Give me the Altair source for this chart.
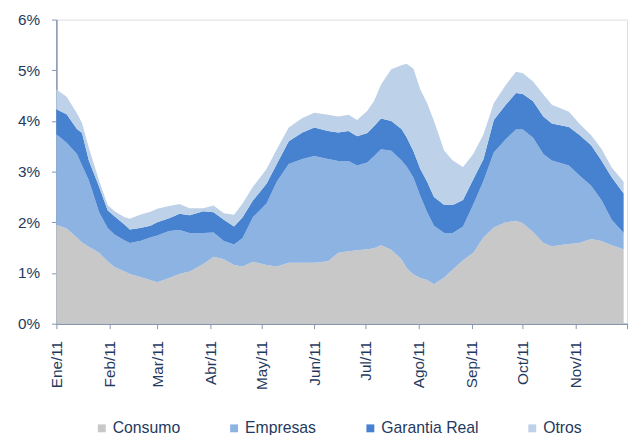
import altair as alt
import pandas as pd

fechas = ["2011-01-01","2011-01-07","2011-01-13","2011-01-16","2011-01-20","2011-01-26","2011-01-31",
          "2011-02-04","2011-02-10","2011-02-13","2011-02-19","2011-02-25","2011-03-01","2011-03-08",
          "2011-03-14","2011-03-20","2011-03-28","2011-04-03","2011-04-09","2011-04-15","2011-04-20",
          "2011-04-26","2011-05-04","2011-05-10","2011-05-17","2011-05-25","2011-06-01","2011-06-09",
          "2011-06-15","2011-06-21","2011-06-26","2011-07-02","2011-07-06","2011-07-10","2011-07-16",
          "2011-07-22","2011-07-25","2011-07-29","2011-08-02","2011-08-06","2011-08-10","2011-08-16",
          "2011-08-21","2011-08-27","2011-09-02","2011-09-08","2011-09-14","2011-09-21","2011-09-27",
          "2011-10-01","2011-10-07","2011-10-13","2011-10-18","2011-10-28","2011-11-03","2011-11-10",
          "2011-11-16","2011-11-22","2011-11-29"]

consumo = [1.95,1.88,1.70,1.60,1.52,1.40,1.23,1.12,1.03,0.98,
           0.92,0.86,0.82,0.90,0.98,1.03,1.18,1.32,1.27,1.16,
           1.13,1.22,1.16,1.13,1.20,1.20,1.20,1.23,1.40,1.43,
           1.45,1.47,1.49,1.55,1.46,1.27,1.10,0.97,0.90,0.86,
           0.78,0.91,1.07,1.25,1.40,1.70,1.90,2.00,2.03,1.98,
           1.81,1.59,1.53,1.57,1.59,1.67,1.63,1.55,1.47]

empresas = [1.79,1.69,1.65,1.52,1.31,0.80,0.66,0.64,0.61,0.61,
            0.71,0.84,0.92,0.93,0.87,0.76,0.61,0.48,0.36,0.40,
            0.56,0.88,1.21,1.67,1.95,2.05,2.11,2.02,1.81,1.78,
            1.67,1.71,1.82,1.89,1.95,1.95,2.00,1.91,1.62,1.34,
            1.15,0.88,0.72,0.67,0.95,1.12,1.48,1.64,1.80,1.85,
            1.86,1.76,1.69,1.55,1.34,1.05,0.81,0.50,0.32]

garantia = [0.49,0.56,0.49,0.64,0.39,0.50,0.35,0.36,0.31,0.27,
            0.26,0.23,0.26,0.25,0.32,0.35,0.43,0.40,0.42,0.36,
            0.41,0.33,0.39,0.35,0.45,0.52,0.56,0.55,0.56,0.59,
            0.58,0.58,0.59,0.61,0.59,0.62,0.58,0.52,0.53,0.60,
            0.57,0.55,0.55,0.52,0.50,0.43,0.64,0.68,0.72,0.70,
            0.72,0.74,0.73,0.76,0.80,0.80,0.78,0.84,0.78]

otros = [0.39,0.35,0.31,0.20,0.25,0.12,0.10,0.10,0.15,0.21,
         0.26,0.28,0.27,0.24,0.19,0.14,0.06,0.13,0.13,0.23,
         0.27,0.27,0.29,0.29,0.27,0.29,0.29,0.32,0.32,0.32,
         0.32,0.44,0.50,0.67,1.02,1.26,1.45,1.63,1.57,1.55,
         1.50,1.07,0.88,0.65,0.50,0.49,0.33,0.39,0.42,0.41,
         0.39,0.43,0.37,0.30,0.22,0.20,0.23,0.19,0.23]

series = ["Consumo", "Empresas", "Garantia Real", "Otros"]
colores = ["#C8C8C8", "#8DB3E2", "#4682CF", "#BDD1E8"]
meses = ["Ene/11","Feb/11","Mar/11","Abr/11","May/11","Jun/11","Jul/11","Ago/11","Sep/11","Oct/11","Nov/11",""]
y_ticks = [0, 1, 2, 3, 4, 5, 6]

rows = []
for orden, (nombre, valores) in enumerate(zip(series, [consumo, empresas, garantia, otros])):
    for f, v in zip(fechas, valores):
        rows.append({"fecha": f, "serie": nombre, "valor": v, "orden": orden})
df = pd.DataFrame(rows)

txt = "#1F3A60"
axc = "#8596B0"
font = "Liberation Sans"

label_expr = "[" + ",".join("'" + m + "'" for m in meses) + "][utcmonth(datum.value)]"

chart = alt.Chart(df).mark_area(interpolate="linear").encode(
    x=alt.X("fecha:T",
            scale=alt.Scale(type="utc",
                            domain=[alt.DateTime(year=2011, month=1, date=1, utc=True),
                                    alt.DateTime(year=2011, month=12, date=1, utc=True)],
                            nice=False),
            axis=alt.Axis(title=None, grid=False,
                          values=[alt.DateTime(year=2011, month=m, date=1, utc=True) for m in range(1, 13)],
                          labelExpr=label_expr, labelAngle=-90, labelAlign="right", labelBaseline="middle",
                          labelFlush=False, labelOverlap=False, labelPadding=12,
                          tickSize=5, tickColor=axc, domainColor=axc, domainWidth=1.5,
                          labelColor=txt, labelFont=font, labelFontSize=15.5)),
    y=alt.Y("valor:Q", stack="zero",
            scale=alt.Scale(domain=[0, 6], nice=False),
            axis=alt.Axis(title=None, grid=False, values=y_ticks,
                          labelExpr="datum.value + '%'", labelPadding=12,
                          tickSize=5, tickColor=axc, domainColor=axc, domainWidth=1.5,
                          labelColor=txt, labelFont=font, labelFontSize=15.5)),
    color=alt.Color("serie:N",
                    scale=alt.Scale(domain=series, range=colores),
                    legend=alt.Legend(title=None, orient="none", legendX=38, legendY=406,
                                      direction="horizontal", symbolType="square", symbolSize=64,
                                      symbolStrokeWidth=0, labelFont=font, labelFontSize=16,
                                      labelColor=txt, labelOffset=3, columnPadding=46)),
    order=alt.Order("orden:Q"),
).properties(
    width=578, height=308,
    autosize=alt.AutoSizeParams(type="none"),
    padding={"left": 49, "top": 9, "right": 5, "bottom": 110},
).configure_view(stroke=None).configure(background="white")

chart.save("out.html", embed_options={"renderer": "svg", "actions": False})
